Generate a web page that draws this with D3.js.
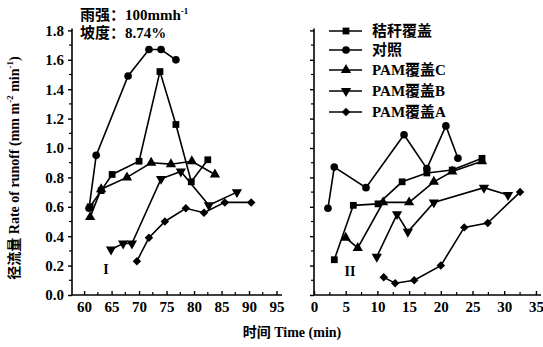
<!DOCTYPE html>
<html>
<head>
<meta charset="utf-8">
<script src="https://cdn.jsdelivr.net/npm/d3@7"></script>
<style>
body { margin: 0; background: #fff; }
svg { display: block; }
</style>
</head>
<body>
<div id="chart"></div>
<script>
// 系列名称
var seriesNames = ["秸秆覆盖", "对照", "PAM覆盖C", "PAM覆盖B", "PAM覆盖A"];

// 阶段 I (time, min)
var timeI_straw = [61.1, 63.1, 65.1, 70.0, 73.8, 76.7, 79.5, 82.5];
var rateI_straw = [0.60, 0.71, 0.82, 0.91, 1.52, 1.16, 0.77, 0.92];
var timeI_ck = [60.9, 62.2, 68.0, 71.8, 74.0, 76.7];
var rateI_ck = [0.59, 0.95, 1.49, 1.67, 1.67, 1.60];
var timeI_pamC = [61.1, 63.1, 67.8, 72.2, 75.8, 79.6, 83.8];
var rateI_pamC = [0.53, 0.72, 0.80, 0.90, 0.89, 0.91, 0.82];
var timeI_pamB = [64.9, 67.1, 68.7, 74.0, 77.6, 82.7, 87.8];
var rateI_pamB = [0.31, 0.35, 0.35, 0.79, 0.84, 0.61, 0.70];
var timeI_pamA = [69.6, 71.8, 74.7, 78.5, 81.8, 85.6, 90.4];
var rateI_pamA = [0.23, 0.39, 0.50, 0.59, 0.56, 0.63, 0.63];

// 阶段 II
var timeII_straw = [3.2, 6.2, 10.1, 13.9, 17.8, 21.8, 26.5];
var rateII_straw = [0.24, 0.61, 0.62, 0.77, 0.83, 0.85, 0.93];
var timeII_ck = [2.2, 3.2, 8.2, 14.2, 17.8, 20.8, 22.7];
var rateII_ck = [0.59, 0.87, 0.73, 1.09, 0.86, 1.15, 0.93];
var timeII_pamC = [5.0, 6.9, 10.9, 15.0, 18.9, 21.8, 26.5];
var rateII_pamC = [0.39, 0.32, 0.63, 0.63, 0.77, 0.84, 0.91];
var timeII_pamB = [9.9, 13.1, 14.8, 18.9, 26.8, 30.6];
var rateII_pamB = [0.26, 0.55, 0.43, 0.63, 0.73, 0.68];
var timeII_pamA = [11.0, 12.8, 15.8, 20.0, 23.7, 27.4, 32.5];
var rateII_pamA = [0.12, 0.08, 0.10, 0.20, 0.46, 0.49, 0.70];

// 刻度
var yTicks = [0.0, 0.2, 0.4, 0.6, 0.8, 1.0, 1.2, 1.4, 1.6, 1.8];
var xTicksI = [60, 65, 70, 75, 80, 85, 90, 95];
var xTicksII = [0, 5, 10, 15, 20, 25, 30, 35];

var W = 543, H = 347;
var numFont = "'Liberation Serif', 'Times New Roman', serif";
var cjkFont = "'Liberation Serif', 'Noto Sans CJK SC', serif";

var symbols = [
	d3.symbol().type(d3.symbolSquare).size(46),
	d3.symbol().type(d3.symbolCircle).size(46),
	d3.symbol().type(d3.symbolTriangle).size(46),
	d3.symbol().type(d3.symbolTriangle).size(46),   // 倒三角，旋转
	d3.symbol().type(d3.symbolSquare).size(36)      // 菱形 = 方块旋转45度
];
var rotations = [0, 0, 0, 180, 45];

function zip(t, v) {
	return t.map(function (d, i) { return { t: d, v: v[i] }; });
}

var panelI = [
	zip(timeI_straw, rateI_straw),
	zip(timeI_ck, rateI_ck),
	zip(timeI_pamC, rateI_pamC),
	zip(timeI_pamB, rateI_pamB),
	zip(timeI_pamA, rateI_pamA)
];
var panelII = [
	zip(timeII_straw, rateII_straw),
	zip(timeII_ck, rateII_ck),
	zip(timeII_pamC, rateII_pamC),
	zip(timeII_pamB, rateII_pamB),
	zip(timeII_pamA, rateII_pamA)
];

var svg = d3.select('#chart')
	.append('svg')
	.attr('width', W)
	.attr('height', H);

svg.append('rect').attr('width', W).attr('height', H).attr('fill', '#fff');

var y = d3.scaleLinear().domain([0, 1.8]).range([295, 30.4]);
var xI = d3.scaleLinear().domain([57.8, 96]).range([72, 282]);
var xII = d3.scaleLinear().domain([0, 35.8]).range([314, 541]);

function drawPanel(x, data, xTicks, showYLabels, minorX) {
	let g = svg.append('g');

	// y 轴
	let yAxis = d3.axisLeft(y)
		.tickValues(yTicks)
		.tickSize(4)
		.tickPadding(4)
		.tickFormat(showYLabels ? d3.format('.1f') : '');
	let ya = g.append('g')
		.attr('transform', 'translate(' + x.range()[0] + ',0)')
		.call(yAxis);
	ya.select('.domain').attr('d', 'M0,' + y(0) + 'V' + (y(1.8) - 2)).attr('stroke-width', 1.6);
	// y 次刻度
	g.append('g').selectAll('line')
		.data(d3.range(0.1, 1.8, 0.2))
		.enter().append('line')
		.attr('x1', x.range()[0] - 3)
		.attr('x2', x.range()[0])
		.attr('y1', function (d) { return y(d); })
		.attr('y2', function (d) { return y(d); })
		.attr('stroke', '#000')
		.attr('stroke-width', 1.2);

	// x 轴
	let xAxis = d3.axisBottom(x)
		.tickValues(xTicks)
		.tickSize(-4)
		.tickPadding(6);
	let xa = g.append('g')
		.attr('transform', 'translate(0,' + y(0) + ')')
		.call(xAxis);
	xa.select('.domain').attr('d', 'M' + x.range()[0] + ',0H' + x.range()[1]).attr('stroke-width', 1.6);
	g.append('g').selectAll('line')
		.data(minorX)
		.enter().append('line')
		.attr('x1', function (d) { return x(d); })
		.attr('x2', function (d) { return x(d); })
		.attr('y1', y(0))
		.attr('y2', y(0) - 3)
		.attr('stroke', '#000')
		.attr('stroke-width', 1.2);

	g.selectAll('.tick line').attr('stroke-width', 1.4);
	g.selectAll('.tick text')
		.attr('font-family', numFont)
		.attr('font-weight', 'bold')
		.attr('font-size', 15)
		.attr('fill', '#000');

	// 折线
	let line = d3.line()
		.x(function (d) { return x(d.t); })
		.y(function (d) { return y(d.v); });

	data.forEach(function (series, i) {
		g.append('path')
			.datum(series)
			.attr('d', line)
			.attr('fill', 'none')
			.attr('stroke', '#000')
			.attr('stroke-width', 1.6);

		g.append('g').selectAll('path')
			.data(series)
			.enter().append('path')
			.attr('d', symbols[i])
			.attr('transform', function (d) {
				return 'translate(' + x(d.t) + ',' + y(d.v) + ') rotate(' + rotations[i] + ')';
			})
			.attr('fill', '#000');
	});
}

drawPanel(xI, panelI, xTicksI, true, d3.range(62.5, 95, 5));
drawPanel(xII, panelII, xTicksII, false, d3.range(2.5, 35, 5));

// 面板编号
svg.append('text')
	.attr('x', 106).attr('y', 274)
	.attr('text-anchor', 'middle')
	.attr('font-family', numFont)
	.attr('font-weight', 'bold')
	.attr('font-size', 14)
	.text('I');
svg.append('text')
	.attr('x', 350).attr('y', 276)
	.attr('text-anchor', 'middle')
	.attr('font-family', numFont)
	.attr('font-weight', 'bold')
	.attr('font-size', 14)
	.text('II');

// 条件说明
var note = svg.append('g')
	.attr('font-family', cjkFont)
	.attr('font-weight', 'bold')
	.attr('font-size', 15);
var n1 = note.append('text').attr('x', 80).attr('y', 20);
n1.append('tspan').text('雨强：100mmh');
n1.append('tspan').attr('font-size', 9).attr('dy', -6).text('-1');
note.append('text').attr('x', 80).attr('y', 38).text('坡度：8.74%');

// 图例
var legend = svg.append('g')
	.attr('font-family', cjkFont)
	.attr('font-weight', 'bold')
	.attr('font-size', 15);
var legendY = [31, 50, 70, 91, 112];
seriesNames.forEach(function (name, i) {
	let row = legend.append('g').attr('transform', 'translate(0,' + legendY[i] + ')');
	row.append('line')
		.attr('x1', 329).attr('x2', 362)
		.attr('y1', 0).attr('y2', 0)
		.attr('stroke', '#000')
		.attr('stroke-width', 1.6);
	row.append('path')
		.attr('d', symbols[i])
		.attr('transform', 'translate(346,0) rotate(' + rotations[i] + ')')
		.attr('fill', '#000');
	row.append('text')
		.attr('x', 372)
		.attr('y', 5)
		.text(name);
});

// 轴标题
svg.append('text')
	.attr('transform', 'translate(19,' + 168 + ') rotate(-90)')
	.attr('text-anchor', 'middle')
	.attr('font-family', cjkFont)
	.attr('font-weight', 'bold')
	.attr('font-size', 14)
	.call(function (t) {
		t.append('tspan').text('径流量 Rate of runoff (mm m');
		t.append('tspan').attr('font-size', 9).attr('dy', -6).text('-2');
		t.append('tspan').attr('dy', 6).text(' min');
		t.append('tspan').attr('font-size', 9).attr('dy', -6).text('-1');
		t.append('tspan').attr('dy', 6).text(')');
	});

svg.append('text')
	.attr('x', 292)
	.attr('y', 337)
	.attr('text-anchor', 'middle')
	.attr('font-family', cjkFont)
	.attr('font-weight', 'bold')
	.attr('font-size', 14)
	.text('时间 Time (min)');
</script>
</body>
</html>
